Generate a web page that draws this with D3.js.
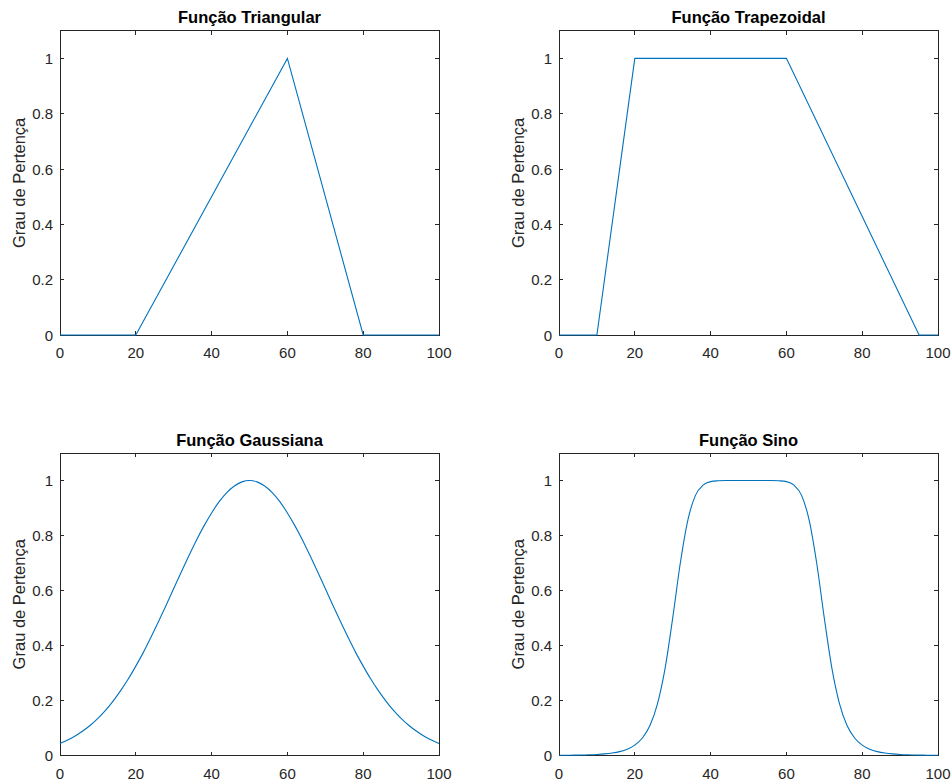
<!DOCTYPE html>
<html>
<head>
<meta charset="utf-8">
<script src="https://cdn.jsdelivr.net/npm/d3@7"></script>
<style>
  html, body { margin: 0; padding: 0; background: #fff; }
  svg { display: block; }
  text { font-family: "Liberation Sans", Arial, Helvetica, sans-serif; }
</style>
</head>
<body>
<svg id="chart" width="952" height="782"></svg>
<script>
// Membership function samples (x in universe 0..100)
const triX = [0, 20, 60, 80, 100];
const triY = [0, 0, 1, 0, 0];

const trapX = [0, 10, 20, 60, 95, 100];
const trapY = [0, 0, 1, 1, 0, 0];

const smoothX = [0, 2, 4, 6, 8, 10, 12, 14, 16, 18, 20, 22, 24, 26, 28, 30, 32, 34, 36, 38, 40, 42, 44, 46, 48,
                 50, 52, 54, 56, 58, 60, 62, 64, 66, 68, 70, 72, 74, 76, 78, 80, 82, 84, 86, 88, 90, 92, 94, 96, 98, 100];

const gaussY = [0.044, 0.056, 0.071, 0.089, 0.110, 0.135, 0.164, 0.198, 0.236, 0.278, 0.325, 0.375, 0.430, 0.487,
                0.546, 0.607, 0.667, 0.726, 0.783, 0.835, 0.882, 0.923, 0.956, 0.980, 0.995, 1.000,
                0.995, 0.980, 0.956, 0.923, 0.882, 0.835, 0.783, 0.726, 0.667, 0.607, 0.546, 0.487, 0.430,
                0.375, 0.325, 0.278, 0.236, 0.198, 0.164, 0.135, 0.110, 0.089, 0.071, 0.056, 0.044];

const bellY = [0.0007, 0.0009, 0.0013, 0.0018, 0.0026, 0.0039, 0.0059, 0.0090, 0.0141, 0.0228, 0.0376, 0.0635,
               0.109, 0.189, 0.318, 0.500, 0.699, 0.856, 0.946, 0.983, 0.996, 0.999, 1.000, 1.000, 1.000, 1.000,
               1.000, 1.000, 1.000, 0.999, 0.996, 0.983, 0.946, 0.856, 0.699, 0.500, 0.318, 0.189, 0.109,
               0.0635, 0.0376, 0.0228, 0.0141, 0.0090, 0.0059, 0.0039, 0.0026, 0.0018, 0.0013, 0.0009, 0.0007];

const xTicks = [0, 20, 40, 60, 80, 100];
const yTicks = [0, 0.2, 0.4, 0.6, 0.8, 1];
const titles = ["Função Triangular", "Função Trapezoidal", "Função Gaussiana", "Função Sino"];
const yLabel = "Grau de Pertença";

const panels = [
  { title: titles[0], xs: triX, ys: triY, smooth: false, box: [60, 439, 30.7, 335] },
  { title: titles[1], xs: trapX, ys: trapY, smooth: false, box: [559, 938, 30.7, 335] },
  { title: titles[2], xs: smoothX, ys: gaussY, smooth: true, box: [60, 439, 453, 755.5] },
  { title: titles[3], xs: smoothX, ys: bellY, smooth: true, box: [559, 938, 453, 755.5] }
];

const axisColor = "#262626";
const lineColor = "#0072BD";
const tickLen = 4;

const svg = d3.select("#chart");

panels.forEach(p => {
  const [x0, x1, y0, y1] = p.box;
  const x = d3.scaleLinear().domain([0, 100]).range([x0, x1]);
  const y = d3.scaleLinear().domain([0, 1.1]).range([y1, y0]);
  const g = svg.append("g");

  // Box and inward ticks on all four sides
  const frame = g.append("g").attr("stroke", axisColor).attr("stroke-width", 1).attr("fill", "none")
    .attr("shape-rendering", "crispEdges");
  frame.append("rect").attr("x", x0).attr("y", y0).attr("width", x1 - x0).attr("height", y1 - y0);
  xTicks.forEach(t => {
    frame.append("line").attr("x1", x(t)).attr("x2", x(t)).attr("y1", y1).attr("y2", y1 - tickLen);
    frame.append("line").attr("x1", x(t)).attr("x2", x(t)).attr("y1", y0).attr("y2", y0 + tickLen);
  });
  yTicks.forEach(t => {
    frame.append("line").attr("x1", x0).attr("x2", x0 + tickLen).attr("y1", y(t)).attr("y2", y(t));
    frame.append("line").attr("x1", x1).attr("x2", x1 - tickLen).attr("y1", y(t)).attr("y2", y(t));
  });

  // Tick labels
  g.append("g").selectAll("text").data(xTicks).join("text")
    .attr("x", d => x(d)).attr("y", y1 + 23)
    .attr("text-anchor", "middle").attr("font-size", 15).attr("fill", axisColor)
    .text(d => d);
  g.append("g").selectAll("text").data(yTicks).join("text")
    .attr("x", x0 - 7).attr("y", d => y(d) + 5.5)
    .attr("text-anchor", "end").attr("font-size", 15).attr("fill", axisColor)
    .text(d => d);

  // Title and y-axis label
  g.append("text")
    .attr("x", (x0 + x1) / 2).attr("y", y0 - 7.5)
    .attr("text-anchor", "middle").attr("font-size", 16.5).attr("font-weight", "bold").attr("fill", "#000")
    .text(p.title);
  g.append("text")
    .attr("transform", `translate(${x0 - 35},${(y0 + y1) / 2}) rotate(-90)`)
    .attr("text-anchor", "middle").attr("font-size", 16.5).attr("fill", axisColor)
    .text(yLabel);

  // Membership curve
  const pts = p.xs.map((v, i) => [v, p.ys[i]]);
  const line = d3.line().x(d => x(d[0])).y(d => y(d[1]))
    .curve(p.smooth ? d3.curveMonotoneX : d3.curveLinear);
  g.append("path").datum(pts)
    .attr("d", line).attr("fill", "none").attr("stroke", lineColor).attr("stroke-width", 1.1);
});
</script>
</body>
</html>
